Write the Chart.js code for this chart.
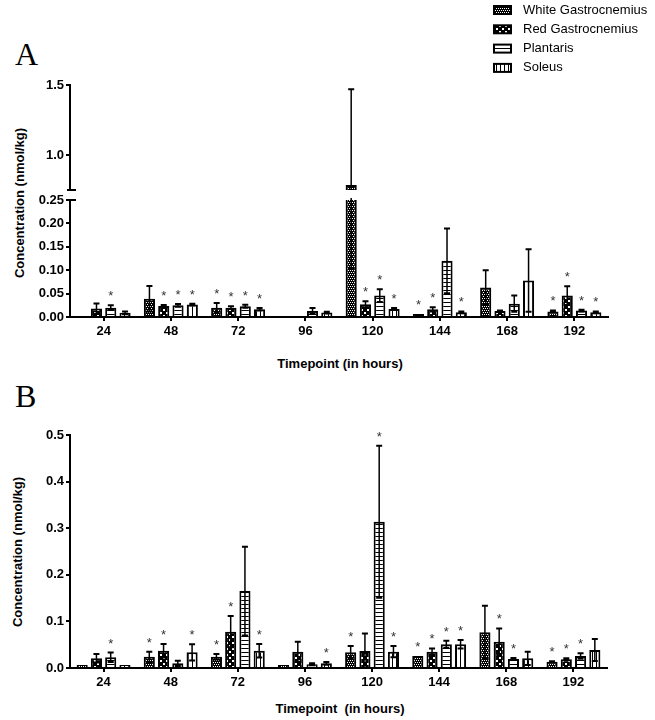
<!DOCTYPE html>
<html>
<head>
<meta charset="utf-8">
<script src="https://cdn.jsdelivr.net/npm/chart.js@4.4.1/dist/chart.umd.min.js"></script>
<style>
  body { margin: 0; background: #fff; }
  #page { position: relative; width: 655px; height: 720px; overflow: hidden; font-family: "Liberation Sans", Arial, sans-serif; }
  canvas { position: absolute; left: 0; }
  .panel { position: absolute; font-family: "Liberation Serif", "Times New Roman", serif; font-size: 32px; line-height: 32px; }
  .ytitle { position: absolute; font-weight: bold; font-size: 13px; white-space: nowrap; transform: translate(-50%, -50%) rotate(-90deg); }
  .xtitle { position: absolute; font-weight: bold; font-size: 13px; white-space: pre; transform: translateX(-50%); }
</style>
</head>
<body>
<div id="page">
  <div class="panel" style="left:15px;top:38px">A</div>
  <div class="panel" style="left:15px;top:380px">B</div>
  <div class="ytitle" style="left:19px;top:203px">Concentration (nmol/kg)</div>
  <div class="ytitle" style="left:17px;top:552px">Concentration (nmol/kg)</div>
  <div class="xtitle" style="left:340px;top:356px">Timepoint (in hours)</div>
  <div class="xtitle" style="left:340px;top:701px">Timepoint  (in hours)</div>
  <canvas id="aTop" width="655" height="200" style="top:0"></canvas>
  <canvas id="aLow" width="655" height="190" style="top:170px"></canvas>
  <canvas id="panelB" width="655" height="320" style="top:380px"></canvas>
</div>
<script>
// ---- data ----
const timepoints = ['24', '48', '72', '96', '120', '144', '168', '192'];
const muscles = ['White Gastrocnemius', 'Red Gastrocnemius', 'Plantaris', 'Soleus'];

// panel A (nmol/kg), mean and SD, null = no bar
const aWhiteMean = [null, 0.039, 0.020, null, 0.786, 0.006, 0.063, 0.012];
const aWhiteSd   = [null, 0.027, 0.010, null, 0.683, 0.000, 0.037, 0.002];
const aRedMean   = [0.018, 0.0235, 0.020, null, 0.027, 0.0165, 0.013, 0.0457];
const aRedSd     = [0.011, 0.002, 0.003, null, 0.0065, 0.0045, 0.001, 0.020];
const aPlanMean  = [0.020, 0.025, 0.023, 0.013, 0.0457, 0.120, 0.0285, 0.0137];
const aPlanSd    = [0.005, 0.003, 0.003, 0.006, 0.0135, 0.069, 0.0175, 0.002];
const aSolMean   = [0.009, 0.0265, 0.0165, 0.0094, 0.017, 0.010, 0.078, 0.010];
const aSolSd     = [0.003, 0.002, 0.0025, 0.002, 0.002, 0.002, 0.067, 0.002];
const aWhiteStar = [0, 0, 1, 0, 0, 1, 0, 1];
const aRedStar   = [0, 1, 1, 0, 1, 1, 0, 1];
const aPlanStar  = [1, 1, 1, 0, 1, 0, 0, 1];
const aSolStar   = [0, 1, 1, 0, 1, 1, 0, 1];

// panel B
const bWhiteMean = [0.003, 0.024, 0.024, 0.004, 0.0336, 0.026, 0.0766, 0.0136];
const bWhiteSd   = [0, 0.011, 0.006, 0, 0.0134, 0, 0.057, 0.001];
const bRedMean   = [0.021, 0.037, 0.078, 0.035, 0.0365, 0.035, 0.0565, 0.0187];
const bRedSd     = [0.009, 0.0145, 0.0336, 0.0215, 0.0375, 0.007, 0.0285, 0.002];
const bPlanMean  = [0.023, 0.010, 0.165, 0.008, 0.314, 0.051, 0.0193, 0.0257];
const bPlanSd    = [0.010, 0.0057, 0.095, 0.002, 0.163, 0.0075, 0.002, 0.006];
const bSolMean   = [0.003, 0.0336, 0.037, 0.010, 0.035, 0.051, 0.0207, 0.0386];
const bSolSd     = [0, 0.0174, 0.0145, 0.003, 0.012, 0.009, 0.0143, 0.0234];
const bWhiteStar = [0, 1, 1, 0, 1, 1, 0, 1];
const bRedStar   = [0, 1, 1, 0, 0, 1, 1, 1];
const bPlanStar  = [1, 0, 0, 0, 1, 1, 1, 1];
const bSolStar   = [0, 1, 1, 1, 1, 1, 0, 0];

// y tick labels
const aTopTicks = [1.0, 1.5];
const aLowTicks = [0, 0.05, 0.10, 0.15, 0.20, 0.25];
const bTicks = [0, 0.1, 0.2, 0.3, 0.4, 0.5];

// ---- fill patterns ----
function makePattern(kind) {
    const c = document.createElement('canvas');
    const g = c.getContext('2d');
    if (kind === 'white') {
        c.width = 4; c.height = 4;
        g.fillStyle = '#000'; g.fillRect(0, 0, 4, 4);
        g.fillStyle = '#fff';
        g.fillRect(0, 0, 1, 1); g.fillRect(2, 0, 1, 1);
        g.fillRect(1, 2, 1, 1); g.fillRect(3, 2, 1, 1);
    } else if (kind === 'red') {
        c.width = 6; c.height = 6;
        g.fillStyle = '#000'; g.fillRect(0, 0, 6, 6);
        g.fillStyle = '#fff';
        g.fillRect(1, 1, 2, 2); g.fillRect(4, 4, 2, 2);
    } else if (kind === 'plan') {
        c.width = 4; c.height = 4;
        g.fillStyle = '#fff'; g.fillRect(0, 0, 4, 4);
        g.fillStyle = '#000'; g.fillRect(0, 0, 4, 1);
    } else {
        c.width = 4; c.height = 4;
        g.fillStyle = '#fff'; g.fillRect(0, 0, 4, 4);
        g.fillStyle = '#000'; g.fillRect(0, 0, 1, 4);
    }
    return g.createPattern(c, 'repeat');
}

Chart.defaults.font.family = '"Liberation Sans", Arial, sans-serif';
Chart.defaults.color = '#000';

function makeDatasets(means, sds, stars, minLen) {
    const fills = ['white', 'red', 'plan', 'sol'];
    return muscles.map((name, i) => ({
        label: name,
        data: means[i],
        sd: sds[i],
        stars: stars[i],
        backgroundColor: makePattern(fills[i]),
        borderColor: '#000',
        borderWidth: 2,
        minBarLength: minLen,
        categoryPercentage: 0.85,
        barPercentage: 0.78
    }));
}

// error bars (mean +/- SD) and significance stars
const errorBarPlugin = {
    id: 'errorBars',
    afterDatasetsDraw(chart, args, opts) {
        const ctx = chart.ctx;
        const area = chart.chartArea;
        const ys = chart.scales.y;
        chart.data.datasets.forEach((ds, di) => {
            const meta = chart.getDatasetMeta(di);
            meta.data.forEach((bar, i) => {
                const m = ds.data[i];
                if (m === null || m === undefined) return;
                const sd = ds.sd[i] || 0;
                const yHi = ys.getPixelForValue(m + sd);
                const yLo = ys.getPixelForValue(m - sd);
                const x = bar.x;
                if (sd > 0) {
                    ctx.save();
                    ctx.beginPath();
                    ctx.rect(area.left, area.top - 2, area.right - area.left, area.bottom - area.top + 2);
                    ctx.clip();
                    ctx.strokeStyle = '#000';
                    ctx.lineWidth = 1.5;
                    ctx.beginPath();
                    ctx.moveTo(x, yHi); ctx.lineTo(x, yLo);
                    ctx.stroke();
                    ctx.lineWidth = 2;
                    ctx.beginPath();
                    ctx.moveTo(x - 3, yHi); ctx.lineTo(x + 3, yHi);
                    if (m - sd > 0) { ctx.moveTo(x - 3, yLo); ctx.lineTo(x + 3, yLo); }
                    ctx.stroke();
                    ctx.restore();
                }
                if (opts.stars && ds.stars[i]) {
                    const top = Math.min(yHi, bar.y);
                    ctx.save();
                    ctx.fillStyle = '#333';
                    ctx.font = '13px "Liberation Sans", Arial';
                    ctx.textAlign = 'center';
                    ctx.textBaseline = 'alphabetic';
                    ctx.fillText('*', x, top - 5);
                    ctx.restore();
                }
            });
        });
    }
};

// axis break caps and legend
const extrasPlugin = {
    id: 'extras',
    afterDraw(chart, args, opts) {
        const ctx = chart.ctx;
        const area = chart.chartArea;
        ctx.save();
        ctx.strokeStyle = '#000';
        ctx.lineWidth = 2;
        if (opts.breakAt) {
            const y = opts.breakAt === 'bottom' ? area.bottom : area.top;
            ctx.beginPath();
            ctx.moveTo(area.left - 3, y); ctx.lineTo(area.left + 6, y);
            ctx.stroke();
        }
        if (opts.legend) {
            chart.data.datasets.forEach((ds, i) => {
                const y = 10 + i * 19.3;
                ctx.fillStyle = ds.backgroundColor;
                ctx.fillRect(494, y - 4, 17, 8);
                ctx.strokeRect(494, y - 4, 17, 8);
                ctx.fillStyle = '#000';
                ctx.font = '13px "Liberation Sans", Arial';
                ctx.textBaseline = 'middle';
                ctx.textAlign = 'left';
                ctx.fillText(ds.label, 523, y);
            });
        }
        ctx.restore();
    }
};

function yAxis(min, max, tickList, decimals) {
    return {
        min: min,
        max: max,
        afterBuildTicks: s => { s.ticks = tickList.map(v => ({ value: v })); },
        afterFit: s => { s.width = 40; },
        ticks: {
            color: '#000',
            padding: 2,
            font: { size: 13, weight: 'bold' },
            callback: v => Number(v).toFixed(decimals)
        },
        grid: { drawOnChartArea: false, color: '#000', lineWidth: 2, tickLength: 4 },
        border: { color: '#000', width: 2 }
    };
}

function xAxis(show) {
    return {
        type: 'category',
        display: show,
        offset: true,
        afterFit: s => { s.height = show ? 25 : 0; },
        ticks: { color: '#000', padding: 3, maxRotation: 0, autoSkip: false, font: { size: 13, weight: 'bold' } },
        grid: { offset: false, drawOnChartArea: false, color: '#000', lineWidth: 2, tickLength: 4 },
        border: { color: '#000', width: 2 }
    };
}

function buildChart(id, means, sds, stars, y, padding, opts) {
    const ctx = document.getElementById(id).getContext('2d');
    return new Chart(ctx, {
        type: 'bar',
        data: { labels: timepoints, datasets: makeDatasets(means, sds, stars, opts.minLen) },
        options: {
            responsive: false,
            animation: false,
            layout: { padding: padding },
            plugins: {
                legend: { display: false },
                tooltip: { enabled: false },
                errorBars: { stars: opts.stars },
                extras: { breakAt: opts.breakAt, legend: opts.legend }
            },
            scales: { x: xAxis(opts.showX), y: y }
        },
        plugins: [errorBarPlugin, extrasPlugin]
    });
}

const aMeans = [aWhiteMean, aRedMean, aPlanMean, aSolMean];
const aSds = [aWhiteSd, aRedSd, aPlanSd, aSolSd];
const aStars = [aWhiteStar, aRedStar, aPlanStar, aSolStar];
const bMeans = [bWhiteMean, bRedMean, bPlanMean, bSolMean];
const bSds = [bWhiteSd, bRedSd, bPlanSd, bSolSd];
const bStars = [bWhiteStar, bRedStar, bPlanStar, bSolStar];

// panel A, upper segment of the broken axis
buildChart('aTop', aMeans, aSds, aStars, yAxis(0.75, 1.5, aTopTicks, 1),
    { left: 30, right: 47, top: 85, bottom: 10 },
    { stars: false, breakAt: 'bottom', legend: true, showX: false, minLen: 0 });

// panel A, lower segment
buildChart('aLow', aMeans, aSds, aStars, yAxis(0, 0.25, aLowTicks, 2),
    { left: 30, right: 47, top: 30, bottom: 18 },
    { stars: true, breakAt: 'top', legend: false, showX: true, minLen: 3 });

// panel B
buildChart('panelB', bMeans, bSds, bStars, yAxis(0, 0.5, bTicks, 1),
    { left: 30, right: 48, top: 55, bottom: 7 },
    { stars: true, breakAt: null, legend: false, showX: true, minLen: 3 });
</script>
</body>
</html>
